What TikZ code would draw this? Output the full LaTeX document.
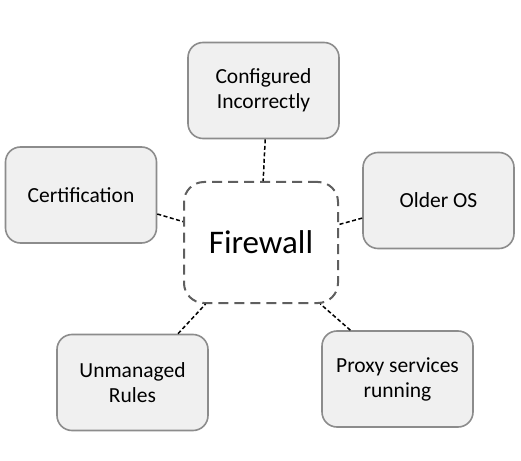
\documentclass[tikz,border=0pt]{standalone}
\usepackage{fontspec}
\setmainfont{Carlito}
\begin{document}
\begin{tikzpicture}[x=1bp,y=-1bp,
  issue/.style={draw=boxline, fill=boxfill, line width=1.6bp, rounded corners=15bp,
    minimum width=151bp, minimum height=96bp, align=center, inner sep=0pt,
    font=\fontsize{21.5bp}{25bp}\selectfont, text=black},
  core/.style={draw=coreline, line width=2bp, dash pattern=on 10bp off 6bp, rounded corners=20bp,
    minimum width=154bp, minimum height=121bp, inner sep=0pt,
    font=\fontsize{33bp}{38bp}\selectfont},
  link/.style={draw=black, line width=1.5bp, dash pattern=on 4bp off 2.5bp}]
\definecolor{boxline}{HTML}{8C8C8C}
\definecolor{boxfill}{HTML}{F0F0F0}
\definecolor{coreline}{HTML}{5F5F5F}
\useasboundingbox (0,0) rectangle (521,461);
\node[core] (fw) at (261,242.5) {Firewall};
\node[issue] (conf) at (263.5,90.5) {Configured\\Incorrectly};
\node[issue] (cert) at (81,195) {Certification};
\node[issue] (old) at (438.5,200.5) {Older OS};
\node[issue] (unm) at (132.5,382.5) {Unmanaged\\Rules};
\node[issue] (proxy) at (397.5,379) {Proxy services\\running};
\draw[link] (conf.272) -- (fw.88);
\draw[link] (cert.-14) -- (fw.165);
\draw[link] (old.193) -- (fw.13.5);
\draw[link] (unm.47) -- (fw.228);
\draw[link] (proxy.134.5) -- (fw.314);
\end{tikzpicture}
\end{document}
